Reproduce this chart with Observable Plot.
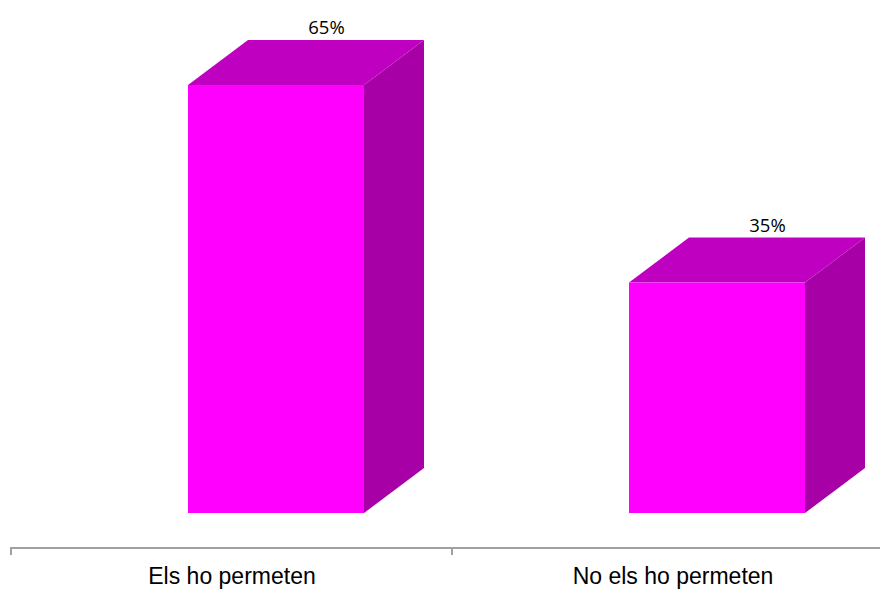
<!DOCTYPE html>
<html><head><meta charset="utf-8">
<script src="https://cdn.jsdelivr.net/npm/d3@7"></script>
<script src="https://cdn.jsdelivr.net/npm/@observablehq/plot@0.6"></script>
<style>html,body{margin:0;padding:0;background:#fff} #chart svg{display:block}</style>
</head><body><div id="chart"></div>
<script>
const categories = ["Els ho permeten", "No els ho permeten"];
const values = [65, 35];
const valueLabels = ["65%", "35%"];
const data = categories.map((category, i) => ({category, value: values[i], label: valueLabels[i]}));

const COLORS = {front: "#ff00ff", top: "#c000c0", side: "#a600a6", axis: "#a0a0a0"};
const DEPTH = {dx: 60, dy: 45};
const FRONT = {insetLeft: 177, width: 176};

function bars3d(index, scales) {
  const x = scales.x, y = scales.y;
  const g = d3.create("svg:g");
  const y0 = y(0);
  for (const d of data) {
    const x0 = x(d.category) + FRONT.insetLeft;
    const x1 = x0 + FRONT.width;
    const yt = y(d.value);
    const {dx, dy} = DEPTH;
    g.append("polygon")
      .attr("points", [[x1, yt], [x1 + dx, yt - dy], [x1 + dx, y0 - dy], [x1, y0]].join(" "))
      .attr("fill", COLORS.side);
    g.append("polygon")
      .attr("points", [[x0, yt], [x0 + dx, yt - dy], [x1 + dx, yt - dy], [x1, yt]].join(" "))
      .attr("fill", COLORS.top);
    g.append("rect")
      .attr("x", x0).attr("y", yt).attr("width", x1 - x0).attr("height", y0 - yt)
      .attr("fill", COLORS.front);
  }
  return g.node();
}

function categoryAxis(index, scales, values, dimensions) {
  const x = scales.x, y = scales.y;
  const g = d3.create("svg:g").attr("stroke", COLORS.axis).attr("stroke-width", 2);
  const ya = y(0) + 35;
  const step = x(categories[1]) - x(categories[0]);
  const edges = categories.map(c => x(c)).concat([x(categories[categories.length - 1]) + step]);
  g.append("line").attr("x1", edges[0] - 1).attr("x2", dimensions.width).attr("y1", ya).attr("y2", ya);
  for (const e of edges) {
    g.append("line").attr("x1", e).attr("x2", e).attr("y1", ya).attr("y2", ya + 7);
  }
  return g.node();
}

const chart = Plot.plot({
  width: 880,
  height: 590,
  marginTop: 85,
  marginBottom: 77,
  marginLeft: 11,
  marginRight: 0,
  style: {background: "#fff", overflow: "visible"},
  x: {type: "band", domain: categories, range: [11, 893], padding: 0, axis: null},
  y: {domain: [0, 65], axis: null},
  marks: [
    bars3d,
    categoryAxis,
    Plot.text(data, {
      x: "category", y: "value", text: "label",
      dx: 94.5, dy: -57,
      fontFamily: "Open Sans", fontSize: 18.5, fill: "#000"
    }),
    Plot.text(data, {
      x: "category", text: "category", frameAnchor: "bottom",
      dy: 70, fontFamily: "Liberation Sans, Arial, sans-serif", fontSize: 23, fill: "#000"
    })
  ]
});
document.getElementById("chart").appendChild(chart);
</script>
</body></html>
